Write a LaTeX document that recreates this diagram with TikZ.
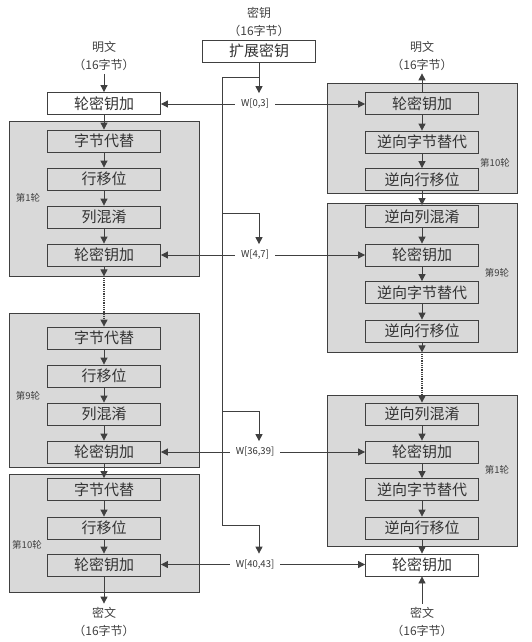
\documentclass[tikz,border=0pt]{standalone}
\usepackage{fontspec}
\setmainfont{Noto Sans CJK SC}
\usetikzlibrary{arrows.meta}
\definecolor{ln}{HTML}{404040}
\definecolor{grpfill}{HTML}{D9D9D9}

\begin{document}
\begin{tikzpicture}[x=1pt, y=-1pt,
   grp/.style={draw=ln, fill=grpfill, line width=0.8pt, minimum width=190pt, inner sep=0pt},
   opbox/.style={draw=ln, fill=grpfill, line width=0.8pt, minimum width=113pt, minimum height=22pt,
      inner sep=1pt, font=\fontsize{15}{18}\selectfont, text=black!80},
   keybox/.style={opbox, fill=white},
   lbl/.style={align=center, font=\fontsize{12}{18}\selectfont, text=ln, inner sep=3pt},
   rnd/.style={font=\fontsize{9.5}{11}\selectfont, text=ln, inner sep=0pt},
   wlbl/.style={fill=white, font=\fontsize{9.5}{11}\selectfont, text=black!80, inner xsep=6pt, inner ysep=6pt},
   flow/.style={-{Triangle[width=7pt,length=7pt]}, draw=ln, line width=0.8pt},
   skip/.style={flow, densely dotted, line width=1.2pt},
   wire/.style={draw=ln, line width=0.8pt}]
\useasboundingbox (0,0) rectangle (532,642);

% round groups
\node[grp, minimum height=155pt] (g1) at (104, 198.5) {};
\node[grp, minimum height=154pt] (g9) at (104, 390) {};
\node[grp, minimum height=118pt] (g10) at (104, 533) {};
\node[grp, minimum height=110pt] (ig10) at (422, 138) {};
\node[grp, minimum height=149pt] (ig9) at (422, 277.5) {};
\node[grp, minimum height=151pt] (ig1) at (422, 470.5) {};

\node[rnd] at (28, 198) {第1轮};
\node[rnd] at (28, 396) {第9轮};
\node[rnd] at (27, 545) {第10轮};
\node[rnd] at (495, 163) {第10轮};
\node[rnd] at (497, 273) {第9轮};
\node[rnd] at (497, 470) {第1轮};

% encryption
\node[lbl] (pt) at (104, 56) {明文\\（16字节）};
\node[keybox] (ak0) at (104, 103.5) {轮密钥加};
\node[opbox] (sb1) at (104, 141) {字节代替};
\node[opbox] (sr1) at (104, 179) {行移位};
\node[opbox] (mc1) at (104, 217) {列混淆};
\node[opbox] (ak1) at (104, 255) {轮密钥加};
\node[opbox] (sb9) at (104, 338) {字节代替};
\node[opbox] (sr9) at (104, 376) {行移位};
\node[opbox] (mc9) at (104, 414) {列混淆};
\node[opbox] (ak9) at (104, 452) {轮密钥加};
\node[opbox] (sb10) at (104, 489.5) {字节代替};
\node[opbox] (sr10) at (104, 528) {行移位};
\node[opbox] (ak10) at (104, 565) {轮密钥加};
\node[lbl] (ct) at (104, 621.5) {密文\\（16字节）};

% decryption
\node[lbl] (ipt) at (422, 55.5) {明文\\（16字节）};
\node[opbox] (iak10) at (422, 103.5) {轮密钥加};
\node[opbox] (isb10) at (422, 142) {逆向字节替代};
\node[opbox] (isr10) at (422, 179.5) {逆向行移位};
\node[opbox] (imc9) at (422, 216.5) {逆向列混淆};
\node[opbox] (iak9) at (422, 255) {轮密钥加};
\node[opbox] (isb9) at (422, 292.5) {逆向字节替代};
\node[opbox] (isr9) at (422, 331) {逆向行移位};
\node[opbox] (imc1) at (422, 414) {逆向列混淆};
\node[opbox] (iak1) at (422, 452) {轮密钥加};
\node[opbox] (isb1) at (422, 489.5) {逆向字节替代};
\node[opbox] (isr1) at (422, 528) {逆向行移位};
\node[keybox] (iak0) at (422, 565) {轮密钥加};
\node[lbl] (ict) at (422, 621.5) {密文\\（16字节）};

% key schedule
\node[lbl] (key) at (259, 21.5) {密钥\\（16字节）};
\node[keybox] (ke) at (259, 51) {扩展密钥};
\node[wlbl] (w0) at (255, 104) {W[0,3]};
\node[wlbl] (w4) at (255, 255) {W[4,7]};
\node[wlbl] (w36) at (255, 452) {W[36,39]};
\node[wlbl] (w40) at (255, 564.5) {W[40,43]};
\coordinate (b0) at (259, 77);
\coordinate (b4) at (259, 213);
\coordinate (b36) at (259, 411);
\coordinate (b40) at (259, 525);
\coordinate (bt) at (222, 77);
\coordinate (bb) at (222, 525);

\draw[flow] (ke) -- (b0 |- w0.north);
\draw[wire] (b0) -- (bt) -- (bb) -- (b40);
\draw[wire] (bt |- b4) -- (b4);
\draw[wire] (bt |- b36) -- (b36);
\draw[flow] (b4) -- (b4 |- w4.north);
\draw[flow] (b36) -- (b36 |- w36.north);
\draw[flow] (b40) -- (b40 |- w40.north);

\draw[flow] (w0.west) -- (w0.west -| ak0.east);
\draw[flow] (w0.east) -- (w0.east -| iak10.west);
\draw[flow] (w4.west) -- (w4.west -| ak1.east);
\draw[flow] (w4.east) -- (w4.east -| iak9.west);
\draw[flow] (w36.west) -- (w36.west -| ak9.east);
\draw[flow] (w36.east) -- (w36.east -| iak1.west);
\draw[flow] (w40.west) -- (w40.west -| ak10.east);
\draw[flow] (w40.east) -- (w40.east -| iak0.west);

\path
    (pt) edge[flow] (ak0)
    (ak0) edge[flow] (sb1)
    (sb1) edge[flow] (sr1)
    (sr1) edge[flow] (mc1)
    (mc1) edge[flow] (ak1)
    (ak1) edge[flow] (g1.south)
    (g1.south) edge[skip] (sb9)
    (sb9) edge[flow] (sr9)
    (sr9) edge[flow] (mc9)
    (mc9) edge[flow] (ak9)
    (ak9) edge[flow] (sb10)
    (sb10) edge[flow] (sr10)
    (sr10) edge[flow] (ak10)
    (ak10) edge[flow] (ct)
;

\path
    (iak10) edge[flow] (ipt)
    (iak10) edge[flow] (isb10)
    (isb10) edge[flow] (isr10)
    (isr10) edge[flow] (imc9)
    (imc9) edge[flow] (iak9)
    (iak9) edge[flow] (isb9)
    (isb9) edge[flow] (isr9)
    (isr9) edge[flow] (ig9.south)
    (ig9.south) edge[skip] (imc1)
    (imc1) edge[flow] (iak1)
    (iak1) edge[flow] (isb1)
    (isb1) edge[flow] (isr1)
    (isr1) edge[flow] (iak0)
    (ict) edge[flow] (iak0)
;

\end{tikzpicture}
\end{document}
